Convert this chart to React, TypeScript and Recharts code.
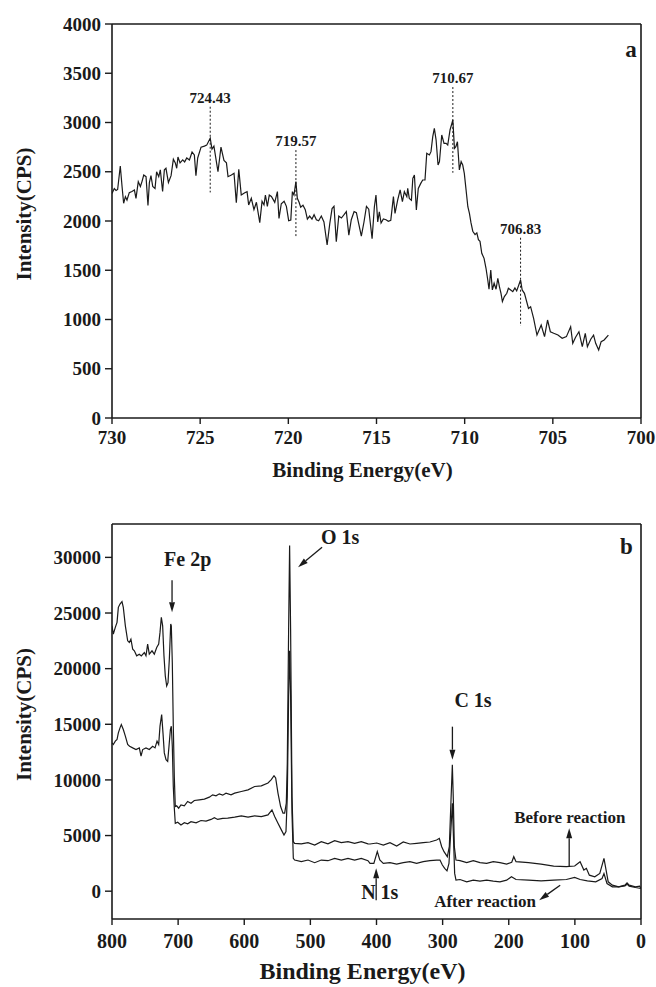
import React from "react";
import { LineChart, Line, XAxis, YAxis, ReferenceLine, ReferenceDot } from "recharts";

const INK = "#1a1a1a";
const SERIF = "Liberation Serif, Times New Roman, DejaVu Serif, serif";

// (a) Fe 2p scan: [binding energy eV, intensity CPS]
const fe2p: [number, number][] = [
  [730.0, 2280], [729.87, 2330], [729.77, 2310], [729.68, 2320], [729.53, 2558], [729.43, 2350],
  [729.34, 2180], [729.24, 2247], [729.15, 2213], [729.02, 2288], [728.87, 2300], [728.73, 2315],
  [728.64, 2230], [728.51, 2400], [728.39, 2350], [728.3, 2400], [728.2, 2467], [728.07, 2450],
  [727.96, 2157], [727.88, 2390], [727.79, 2460], [727.69, 2350], [727.56, 2330], [727.47, 2500],
  [727.35, 2450], [727.26, 2520], [727.13, 2300], [727.03, 2520], [726.94, 2535], [726.8, 2390],
  [726.65, 2460], [726.52, 2627], [726.41, 2590], [726.33, 2535], [726.26, 2650], [726.14, 2590],
  [725.99, 2620], [725.88, 2600], [725.76, 2640], [725.61, 2620], [725.46, 2700], [725.33, 2670],
  [725.24, 2460], [725.14, 2640], [724.95, 2750], [724.76, 2760], [724.63, 2770], [724.43, 2840],
  [724.33, 2730], [724.22, 2760], [723.99, 2500], [723.82, 2750], [723.65, 2615], [723.51, 2590],
  [723.42, 2450], [723.23, 2467], [723.08, 2484], [722.95, 2186], [722.81, 2524], [722.67, 2264],
  [722.47, 2287], [722.34, 2298], [722.25, 2163], [722.1, 2230], [721.95, 2115], [721.81, 2190],
  [721.62, 1983], [721.49, 2200], [721.38, 2163], [721.3, 2264], [721.19, 2149], [721.08, 2264],
  [720.96, 2250], [720.77, 2190], [720.62, 2298], [720.53, 2027], [720.4, 2175], [720.24, 2200],
  [720.11, 2149], [719.98, 2003], [719.86, 2010], [719.77, 2298], [719.68, 2264], [719.57, 2400],
  [719.49, 2230], [719.39, 2190], [719.3, 2140], [719.17, 2160], [719.04, 2115], [718.92, 2020],
  [718.79, 2050], [718.66, 2020], [718.54, 2064], [718.41, 2013], [718.28, 2003], [718.13, 2050],
  [717.98, 1990], [717.8, 1756], [717.65, 1973], [717.52, 2126], [717.41, 2149], [717.28, 1790],
  [717.14, 2050], [716.99, 2030], [716.84, 2064], [716.71, 2095], [716.57, 1857], [716.43, 2013],
  [716.27, 2095], [716.14, 2085], [716.01, 1973], [715.86, 1846], [715.71, 1990], [715.57, 2149],
  [715.44, 2120], [715.25, 1820], [715.12, 2145], [715.03, 2264], [714.93, 1990], [714.84, 2094],
  [714.74, 1980], [714.61, 2020], [714.46, 2013], [714.33, 1997], [714.19, 2006], [714.04, 2247],
  [713.95, 2077], [713.8, 2213], [713.66, 2315], [713.53, 2196], [713.42, 2298], [713.28, 2247],
  [713.23, 2331], [713.14, 2230], [713.02, 2210], [712.94, 2433], [712.85, 2467], [712.74, 2111],
  [712.63, 2331], [712.49, 2382], [712.38, 2416], [712.25, 2416], [712.15, 2687], [712.0, 2670],
  [711.91, 2704], [711.81, 2856], [711.72, 2941], [711.62, 2822], [711.51, 2568], [711.43, 2602],
  [711.3, 2873], [711.17, 2788], [711.05, 2788], [710.96, 2771], [710.83, 2924], [710.67, 3025],
  [710.58, 2737], [710.5, 2754], [710.41, 2805], [710.3, 2518], [710.2, 2602], [710.11, 2568],
  [710.02, 2483], [709.92, 2315], [709.82, 2145], [709.73, 2077], [709.64, 1980], [709.54, 1896],
  [709.41, 1862], [709.31, 1879], [709.22, 1811], [709.13, 1794], [709.03, 1672], [708.9, 1621],
  [708.79, 1520], [708.69, 1401], [708.62, 1307], [708.52, 1503], [708.43, 1300], [708.33, 1368],
  [708.22, 1307], [708.12, 1418], [708.03, 1334], [707.94, 1266], [707.86, 1182], [707.75, 1232],
  [707.61, 1266], [707.52, 1317], [707.39, 1300], [707.27, 1283], [707.15, 1320], [707.05, 1290],
  [706.83, 1401], [706.74, 1300], [706.61, 1266], [706.38, 1113], [706.26, 1130], [706.09, 1012],
  [705.9, 842], [705.66, 944], [705.47, 826], [705.3, 995], [705.14, 876], [704.95, 860],
  [704.71, 842], [704.47, 810], [704.23, 826], [703.99, 927], [703.87, 758], [703.71, 820],
  [703.52, 876], [703.33, 724], [703.16, 860], [703.04, 724], [702.85, 800], [702.69, 842],
  [702.57, 758], [702.4, 690], [702.26, 775], [702.09, 792], [701.85, 842],
];

// (b) survey spectra: [binding energy eV, intensity CPS]
const surveyBefore: [number, number][] = [
  [800, 23850], [798, 23100], [795, 23710], [792.4, 24160], [790.4, 25510], [787.9, 25810],
  [784.9, 26020], [782.9, 25510], [779.8, 23850], [776.3, 22500], [773.8, 22350], [771.4, 22650],
  [768.7, 21750], [766.2, 21600], [762.7, 21150], [758.7, 21300], [755.7, 21150], [751.1, 21450],
  [748.6, 21150], [746.1, 22200], [743.6, 21300], [739.5, 21600], [736, 21300], [732.4, 21900],
  [729.4, 22200], [727.4, 23260], [725.4, 24610], [723.4, 23850], [721.4, 21150], [719.4, 19340],
  [717.3, 18440], [715.3, 18740], [713.3, 20850], [711.2, 24010], [710.3, 23850], [708.8, 20550],
  [707.3, 14830], [705.8, 10320], [704.3, 7610], [702.2, 7670], [699.2, 7460], [695.7, 7760],
  [690.6, 7670], [685.6, 8060], [680.5, 7910], [675.5, 8150], [667.9, 8210], [660.3, 8270],
  [652.8, 8450], [647.8, 8660], [642.7, 8570], [637.7, 8750], [632.6, 8630], [627.6, 8810],
  [620, 8660], [614.5, 8810], [604.4, 8960], [594.3, 9110], [584.3, 9410], [574.2, 9470],
  [564.1, 9720], [559.1, 10020], [555, 10380], [552.5, 10170], [549, 8820], [545, 7610],
  [541.4, 7010], [538.9, 7010], [536.4, 7910], [534.9, 11520], [532.9, 23550], [531.4, 31070],
  [529.9, 23550], [527.8, 8510], [525.8, 4450], [523.8, 4300], [513.7, 4250], [503.6, 4360],
  [493.5, 4150], [483.5, 4450], [473.4, 4250], [463.3, 4540], [453.2, 4360], [443.1, 4450],
  [433.1, 4300], [423, 4450], [412.9, 4250], [409.8, 4240], [399.7, 4330], [389.7, 4150],
  [379.6, 4360], [369.5, 4060], [359.5, 4420], [349.4, 4240], [339.3, 4300], [329.3, 4360],
  [319.2, 4420], [309.1, 4600], [305, 4750], [301.4, 4000], [297.9, 3550], [292.9, 3100],
  [289.9, 4000], [287.3, 8210], [285.3, 11370], [283.8, 8210], [282.3, 4000], [279.8, 2800],
  [273.7, 2740], [263.6, 2560], [253.6, 2740], [243.5, 2560], [233.4, 2500], [223.4, 2650],
  [213.3, 2560], [203.2, 2440], [195.5, 2600], [192.4, 3100], [189, 2650], [170.1, 2560],
  [151.1, 2440], [132.1, 2260], [112.9, 2200], [100.3, 2260], [92.1, 2650], [86.4, 1900],
  [82.6, 2050], [78.1, 1440], [69.9, 1290], [62.3, 1590], [56, 2950], [52.8, 1900],
  [49.6, 840], [43.3, 540], [33.8, 390], [24.3, 540], [21.1, 750], [17.9, 540],
  [8.4, 390], [2.1, 450], [0, 240],
];

const surveyAfter: [number, number][] = [
  [800, 13330], [798, 13180], [795, 13480], [792.4, 13630], [790.4, 14230], [787.9, 14680],
  [785.9, 14980], [782.9, 14530], [779.8, 13930], [776.3, 13180], [773.4, 13030], [768.7, 12880],
  [763.7, 12730], [758.7, 12880], [756.1, 12130], [753.6, 12730], [748.6, 12880], [743.6, 12730],
  [738.5, 13030], [734.9, 12880], [731.9, 13480], [729.4, 13180], [727.4, 14830], [724.9, 15880],
  [722.9, 14230], [720.9, 12430], [718.3, 11820], [715.8, 11670], [713.8, 13030], [711.7, 14530],
  [710.3, 14830], [708.8, 13030], [707.3, 9410], [705.8, 7500], [704.3, 6100], [700.7, 6200],
  [695.7, 5950], [690.6, 6150], [685.6, 6050], [680.5, 6250], [672.9, 6150], [665.4, 6350],
  [657.8, 6300], [650.2, 6450], [645.2, 6600], [640.2, 6450], [632.6, 6550], [625, 6560],
  [614.5, 6650], [604.4, 6770], [594.3, 6650], [584.3, 6770], [574.2, 6710], [564.1, 6860],
  [558.1, 7310], [554, 6710], [549, 6110], [543.9, 5510], [539.9, 5050], [536.9, 5360],
  [534.9, 8510], [532.9, 17530], [531.4, 21600], [529.9, 17530], [527.8, 7010], [525.8, 2950],
  [523.8, 2800], [513.7, 2650], [503.6, 2800], [493.5, 2560], [483.5, 2800], [473.4, 2740],
  [463.3, 2950], [453.2, 2800], [443.1, 2950], [433.1, 2800], [423, 2950], [412.9, 2740],
  [409.8, 2500], [404, 2500], [398.8, 3550], [395, 2800], [389.7, 2500], [379.6, 2560],
  [369.5, 2440], [359.5, 2560], [349.4, 2650], [339.3, 2500], [329.3, 2650], [319.2, 2740],
  [309.1, 2800], [304, 2800], [300.4, 2350], [296.9, 2050], [293.4, 1830], [290.4, 2500],
  [287.8, 5210], [285.3, 7910], [283.8, 5210], [281.8, 1600], [279.8, 990], [273.7, 1050],
  [263.6, 840], [253.6, 990], [243.5, 900], [233.4, 990], [223.4, 900], [213.3, 840],
  [203.2, 990], [195.9, 1300], [189, 1050], [170.1, 990], [151.1, 930], [132.1, 990],
  [112.9, 1050], [100.3, 1230], [92.1, 1050], [81.1, 930], [68.4, 840], [58.9, 1140],
  [56, 1590], [51.4, 690], [43.3, 390], [33.8, 390], [24.3, 480], [21.1, 630],
  [17.9, 450], [8.4, 330], [0, 240],
];

// axis ticks
const feTicksX = [730, 725, 720, 715, 710, 705, 700];
const feMinorX = [727.5, 722.5, 717.5, 712.5, 707.5, 702.5];
const feTopX = [727, 724, 721, 718, 715, 712, 709, 706, 703];
const feTicksY = [0, 500, 1000, 1500, 2000, 2500, 3000, 3500, 4000];
const feMinorY = [250, 750, 1250, 1750, 2250, 2750, 3250, 3750];
const feRightY = [400, 800, 1200, 1600, 2000, 2400, 2800, 3200, 3600];

const svTicksX = [800, 700, 600, 500, 400, 300, 200, 100, 0];
const svMinorX = [750, 650, 550, 450, 350, 250, 150, 50];
const svTopX = [720, 640, 560, 480, 400, 320, 240, 160, 80];
const svTicksY = [0, 5000, 10000, 15000, 20000, 25000, 30000];
const svMinorY = [2500, 7500, 12500, 17500, 22500, 27500, 32500];
const svRightY = [1050, 4600, 8150, 11700, 15250, 18800, 22350, 25900, 29450];

// peak markers on (a): energy, dotted line from top to bottom intensity
const fePeaks = [
  { e: 724.43, top: 3160, bottom: 2290 },
  { e: 719.57, top: 2720, bottom: 1840 },
  { e: 710.67, top: 3360, bottom: 2490 },
  { e: 706.83, top: 1830, bottom: 935 },
];

// arrows on (b): tip in data units, tail and text offsets in px
const surveyNotes = [
  { text: "Fe 2p", e: 709.2, v: 25060, tail: [0, -32], label: [-8, -46], size: 20 },
  { text: "O 1s", e: 518.6, v: 29120, tail: [24, -20], label: [23, -23], size: 20 },
  { text: "C 1s", e: 285.2, v: 11820, tail: [0, -33], label: [2, -53], size: 20 },
  { text: "N 1s", e: 400.5, v: 2050, tail: [0, 32], label: [-15, 31], size: 20 },
  { text: "Before reaction", e: 108.6, v: 5660, tail: [0, 38], label: [-55, -5], size: 17 },
  { text: "After reaction", e: 154, v: -810, tail: [21, -15], label: [-105, 7], size: 17 },
];

const toPts = (arr: [number, number][]) => arr.map(([e, v]) => ({ e, v }));

const axisLine = { stroke: INK, strokeWidth: 1.6 };
const tickLine = { stroke: INK, strokeWidth: 1.4 };
const textStyle = { fontFamily: SERIF };
const tickFont = (size: number) => ({ fill: INK, fontSize: size, fontFamily: SERIF, fontWeight: 700, style: textStyle });

const xTitle = (text: string, size: number, dx: number, dy: number) => (p: any) => {
  const vb = p.viewBox || {};
  return (
    <text x={vb.x + vb.width / 2 + dx} y={vb.y + dy} textAnchor="middle" fontSize={size}
      style={textStyle} fontWeight={700} fill={INK}>
      {text}
    </text>
  );
};

const yTitle = (text: string, size: number) => (p: any) => {
  const vb = p.viewBox || {};
  const x = vb.x + 31;
  const y = vb.y + vb.height / 2 - 7;
  return (
    <text x={x} y={y} transform={`rotate(-90, ${x}, ${y})`} textAnchor="middle" fontSize={size}
      style={textStyle} fontWeight={700} fill={INK}>
      {text}
    </text>
  );
};

const textShape = (text: string, size: number, dx: number, dy: number, anchor = "start") => (p: any) => (
  <text x={p.cx + dx} y={p.cy + dy} textAnchor={anchor} fontSize={size} style={textStyle}
    fontWeight={700} fill={INK}>
    {text}
  </text>
);

const arrowShape = (n: (typeof surveyNotes)[number]) => (p: any) => {
  const { cx, cy } = p;
  const [tx, ty] = n.tail;
  const len = Math.hypot(tx, ty);
  const ux = -tx / len, uy = -ty / len;
  const bx = cx - ux * 10, by = cy - uy * 10;
  const nx = -uy * 3, ny = ux * 3;
  return (
    <g>
      <line x1={cx + tx} y1={cy + ty} x2={bx} y2={by} stroke={INK} strokeWidth={1.3} />
      <polygon points={`${cx},${cy} ${bx + nx},${by + ny} ${bx - nx},${by - ny}`} fill={INK} />
      <text x={cx + n.label[0]} y={cy + n.label[1]} fontSize={n.size} style={textStyle}
        fontWeight={700} fill={INK}>
        {n.text}
      </text>
    </g>
  );
};

// mirror axes take no room; minor ticks point out (negative size), frame ticks point in
function FeChart() {
  return (
    <LineChart width={656} height={490} margin={{ top: 24, right: 15, bottom: 12, left: 0 }}>
      <XAxis xAxisId="x" dataKey="e" type="number" domain={[700, 730]} reversed allowDataOverflow
        ticks={feTicksX} interval={0} tickSize={6} tickMargin={7} tickLine={tickLine} axisLine={axisLine}
        tick={tickFont(19)} height={60} label={xTitle("Binding Energy(eV)", 21, -14, 59)} />
      <XAxis xAxisId="xm" dataKey="e" type="number" orientation="bottom" mirror domain={[700, 730]} reversed
        allowDataOverflow ticks={feMinorX} interval={0} tick={false} tickSize={-4} tickLine={tickLine}
        axisLine={false} height={1} />
      <XAxis xAxisId="xt" dataKey="e" type="number" orientation="top" mirror domain={[700, 730]} reversed
        allowDataOverflow ticks={feTopX} interval={0} tick={false} tickSize={5} tickLine={tickLine}
        axisLine={axisLine} height={1} />
      <YAxis yAxisId="y" type="number" domain={[0, 4000]} allowDataOverflow ticks={feTicksY} interval={0}
        tickSize={7} tickMargin={4} tickLine={tickLine} axisLine={axisLine} tick={tickFont(19)} width={112}
        label={yTitle("Intensity(CPS)", 21)} />
      <YAxis yAxisId="ym" type="number" orientation="left" mirror domain={[0, 4000]} allowDataOverflow
        ticks={feMinorY} interval={0} tick={false} tickSize={-4} tickLine={tickLine} axisLine={false} width={1} />
      <YAxis yAxisId="yr" type="number" orientation="right" mirror domain={[0, 4000]} allowDataOverflow
        ticks={feRightY} interval={0} tick={false} tickSize={5} tickLine={tickLine} axisLine={axisLine} width={1} />
      {fePeaks.map((p) => (
        <ReferenceLine key={p.e} xAxisId="x" yAxisId="y" segment={[{ x: p.e, y: p.top }, { x: p.e, y: p.bottom }]}
          stroke={INK} strokeWidth={1} strokeDasharray="2 2" />
      ))}
      {fePeaks.map((p) => (
        <ReferenceDot key={"t" + p.e} xAxisId="x" yAxisId="y" x={p.e} y={p.top} ifOverflow="visible"
          shape={textShape(p.e.toFixed(2), 15, 0, -4, "middle")} />
      ))}
      <ReferenceDot xAxisId="x" yAxisId="y" x={700.9} y={3664} ifOverflow="visible" shape={textShape("a", 23, 0, 0)} />
      <Line xAxisId="x" yAxisId="y" data={toPts(fe2p)} dataKey="v" type="linear" stroke={INK}
        strokeWidth={1.2} dot={false} isAnimationActive={false} />
    </LineChart>
  );
}

function SurveyChart() {
  return (
    <LineChart width={656} height={497} margin={{ top: 34, right: 15, bottom: 0, left: 0 }}>
      <XAxis xAxisId="x" dataKey="e" type="number" domain={[0, 800]} reversed allowDataOverflow
        ticks={svTicksX} interval={0} tickSize={6} tickMargin={9} tickLine={tickLine} axisLine={axisLine}
        tick={tickFont(20)} height={68} label={xTitle("Binding Energy(eV)", 24, -14, 60)} />
      <XAxis xAxisId="xm" dataKey="e" type="number" orientation="bottom" mirror domain={[0, 800]} reversed
        allowDataOverflow ticks={svMinorX} interval={0} tick={false} tickSize={-4} tickLine={tickLine}
        axisLine={false} height={1} />
      <XAxis xAxisId="xt" dataKey="e" type="number" orientation="top" mirror domain={[0, 800]} reversed
        allowDataOverflow ticks={svTopX} interval={0} tick={false} tickSize={5} tickLine={tickLine}
        axisLine={axisLine} height={1} />
      <YAxis yAxisId="y" type="number" domain={[-2500, 33000]} allowDataOverflow ticks={svTicksY} interval={0}
        tickSize={7} tickMargin={4} tickLine={tickLine} axisLine={axisLine} tick={tickFont(19)} width={112}
        label={yTitle("Intensity(CPS)", 21)} />
      <YAxis yAxisId="ym" type="number" orientation="left" mirror domain={[-2500, 33000]} allowDataOverflow
        ticks={svMinorY} interval={0} tick={false} tickSize={-4} tickLine={tickLine} axisLine={false} width={1} />
      <YAxis yAxisId="yr" type="number" orientation="right" mirror domain={[-2500, 33000]} allowDataOverflow
        ticks={svRightY} interval={0} tick={false} tickSize={5} tickLine={tickLine} axisLine={axisLine} width={1} />
      <Line xAxisId="x" yAxisId="y" data={toPts(surveyBefore)} dataKey="v" type="linear" stroke={INK}
        strokeWidth={1.2} dot={false} isAnimationActive={false} name="Before reaction" />
      <Line xAxisId="x" yAxisId="y" data={toPts(surveyAfter)} dataKey="v" type="linear" stroke={INK}
        strokeWidth={1.2} dot={false} isAnimationActive={false} name="After reaction" />
      {surveyNotes.map((n) => (
        <ReferenceDot key={n.text} xAxisId="x" yAxisId="y" x={n.e} y={n.v} ifOverflow="visible" shape={arrowShape(n)} />
      ))}
      <ReferenceDot xAxisId="x" yAxisId="y" x={31.8} y={30320} ifOverflow="visible" shape={textShape("b", 23, 0, 0)} />
    </LineChart>
  );
}

export default function App() {
  return (
    <div style={{ position: "absolute", left: 0, top: 0, width: 656, height: 987, background: "#fff", fontFamily: SERIF }}>
      <FeChart />
      <SurveyChart />
    </div>
  );
}
